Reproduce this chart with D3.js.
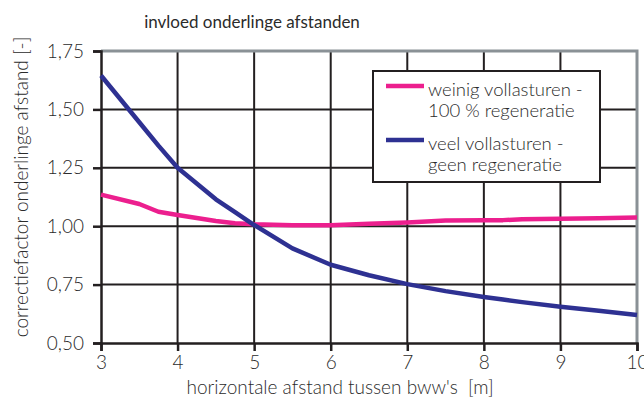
<!DOCTYPE html>
<html>
<head>
<meta charset="utf-8">
<script src="https://cdn.jsdelivr.net/npm/d3@7"></script>
<style>
  body { margin: 0; background: #fff; }
  svg { display: block; }
  text { font-family: Lato, "Open Sans", sans-serif; fill: #2b2b2b; white-space: pre; }
</style>
</head>
<body>
<div id="chart"><svg></svg></div>
<script>
// horizontale afstand [m]
const distances = [3, 3.5, 3.75, 4, 4.5, 4.75, 5, 5.5, 6, 6.5, 7, 7.5, 8, 8.25, 8.5, 9, 9.5, 10]
// weinig vollasturen - 100 % regeneratie
const weinigValues = [1.135, 1.095, 1.062, 1.048, 1.022, 1.013, 1.008, 1.004, 1.004, 1.01, 1.016, 1.024, 1.026, 1.026, 1.03, 1.032, 1.034, 1.037]
// veel vollasturen - geen regeneratie
const veelValues = [1.645, 1.445, 1.345, 1.25, 1.115, 1.06, 1.005, 0.905, 0.835, 0.79, 0.752, 0.722, 0.697, 0.686, 0.675, 0.655, 0.638, 0.62]

const xTicks = [3, 4, 5, 6, 7, 8, 9, 10]
const yTicks = [0.5, 0.75, 1.0, 1.25, 1.5, 1.75]

const seriesNames = [["weinig vollasturen -", "100 % regeneratie"], ["veel vollasturen -", "geen regeneratie"]]
const seriesColors = ["#ec1f8e", "#2e3192"]

const margins = { top: 51, right: 7, bottom: 59, left: 101 }
const width = 644 - margins.left - margins.right
const height = 402 - margins.top - margins.bottom

const svg = d3.select("#chart").select("svg")
    .attr("width", 644)
    .attr("height", 402)

const plot = svg.append("g")
    .attr("transform", "translate(" + margins.left + "," + margins.top + ")")

const x = d3.scaleLinear().domain([3, 10]).range([0, width])
const y = d3.scaleLinear().domain([0.5, 1.75]).range([height, 0])

// grid lines
plot.append("g").selectAll("line")
    .data(xTicks.slice(1, -1))
    .join("line")
    .attr("x1", d => x(d)).attr("x2", d => x(d))
    .attr("y1", 0).attr("y2", height)
    .attr("stroke", "#231f20").attr("stroke-width", 2)

plot.append("g").selectAll("line")
    .data(yTicks.slice(1, -1))
    .join("line")
    .attr("x1", 0).attr("x2", width)
    .attr("y1", d => y(d)).attr("y2", d => y(d))
    .attr("stroke", "#231f20").attr("stroke-width", 2)

// grey frame top and right
plot.append("path")
    .attr("d", "M0," + y(1.75) + "H" + x(10) + "V" + y(0.5))
    .attr("fill", "none")
    .attr("stroke", "#8a9196")
    .attr("stroke-width", 3)

// axes
const xAxis = plot.append("g")
    .attr("transform", "translate(0," + height + ")")
    .call(d3.axisBottom(x).tickValues(xTicks).tickSize(8).tickPadding(5).tickFormat(d3.format("d")))
const yAxis = plot.append("g")
    .call(d3.axisLeft(y).tickValues(yTicks).tickSize(8).tickPadding(9)
        .tickFormat(d => d3.format(".2f")(d).replace(".", ",")))

for (const ax of [xAxis, yAxis]) {
    ax.select(".domain").attr("stroke", "#231f20").attr("stroke-width", 2.5)
    ax.selectAll(".tick line").attr("stroke", "#231f20").attr("stroke-width", 2.5)
    ax.selectAll(".tick text")
        .style("font-family", "Lato, sans-serif")
        .style("font-weight", 300)
        .style("font-size", "19px")
        .attr("fill", "#333")
}

// lines
const lineGen = d3.line()
    .x((d, i) => x(distances[i]))
    .y(d => y(d))

plot.append("path")
    .datum(weinigValues)
    .attr("d", lineGen)
    .attr("fill", "none")
    .attr("stroke", seriesColors[0])
    .attr("stroke-width", 4.5)
    .attr("stroke-linejoin", "round")

plot.append("path")
    .datum(veelValues)
    .attr("d", lineGen)
    .attr("fill", "none")
    .attr("stroke", seriesColors[1])
    .attr("stroke-width", 4.5)
    .attr("stroke-linejoin", "round")

// legend
const legend = svg.append("g").attr("transform", "translate(373,71)")
legend.append("rect")
    .attr("width", 227).attr("height", 111)
    .attr("fill", "#fff")
    .attr("stroke", "#231f20").attr("stroke-width", 2)

seriesNames.forEach((lines, i) => {
    const row = legend.append("g").attr("transform", "translate(0," + (i * 54) + ")")
    row.append("line")
        .attr("x1", 13).attr("x2", 51)
        .attr("y1", 15).attr("y2", 15)
        .attr("stroke", seriesColors[i]).attr("stroke-width", 4.5)
    lines.forEach((t, j) => {
        row.append("text")
            .attr("x", 55)
            .attr("y", 25 + j * 21)
            .style("font-size", "18.5px")
            .style("font-weight", 300)
            .text(t)
    })
})

// titles
svg.append("text")
    .attr("x", 252).attr("y", 28)
    .attr("text-anchor", "middle")
    .style("font-size", "17px")
    .style("font-weight", 400)
    .text("invloed onderlinge afstanden")

svg.append("text")
    .attr("x", 340).attr("y", 394)
    .attr("text-anchor", "middle")
    .style("font-size", "19px")
    .style("font-weight", 300)
    .text("horizontale afstand tussen bww's  [m]")

svg.append("text")
    .attr("transform", "translate(28," + (margins.top + height / 2 - 10) + ") rotate(-90)")
    .attr("text-anchor", "middle")
    .style("font-size", "19px")
    .style("font-weight", 300)
    .text("correctiefactor onderlinge afstand [-]")
</script>
</body>
</html>
